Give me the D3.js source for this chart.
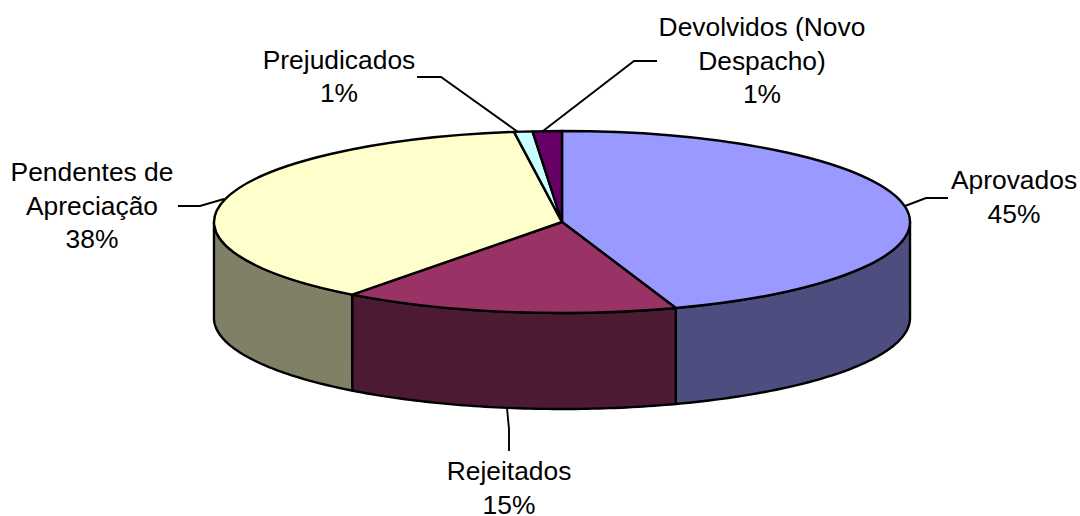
<!DOCTYPE html>
<html><head><meta charset="utf-8">
<script src="https://cdn.jsdelivr.net/npm/d3@7"></script>
<style>html,body{margin:0;padding:0;background:#fff}svg{display:block}text{font-family:"Liberation Sans",Arial,sans-serif;font-size:26.4px;fill:#000;text-anchor:middle}</style>
</head><body><svg id="c" width="1080" height="516"></svg>
<script>
const categories = ["Aprovados","Rejeitados","Pendentes de Apreciação","Prejudicados","Devolvidos (Novo Despacho)"];
const values = [44.7,15.6,37.5,0.85,1.35];
const percentLabels = ["45%","15%","38%","1%","1%"];
const labelLines = [["Aprovados"],["Rejeitados"],["Pendentes de","Apreciação"],["Prejudicados"],["Devolvidos (Novo","Despacho)"]];
const topColors = ["#9999FF","#993366","#FFFFCC","#CCFFFF","#660066"];
const sideColors = ["#4D4D80","#4D1A33","#808066","#668080","#330033"];

const cx=562, cy=222, rx=348, ry=91, depth=96;
const svg=d3.select("#c");
const arcs=d3.pie().sort(null).value(d=>d)(values);
const px=a=>cx+rx*Math.sin(a), py=a=>cy-ry*Math.cos(a);

// side walls: visible front half of the ellipse
const wall=(a0,a1)=>{
  const n=60, top=d3.range(n+1).map(i=>a0+(a1-a0)*i/n);
  const pts=top.map(a=>[px(a),py(a)]).concat(top.slice().reverse().map(a=>[px(a),py(a)+depth]));
  return d3.line()(pts)+"Z";
};
arcs.forEach((d,i)=>{
  const a0=Math.max(d.startAngle,Math.PI/2), a1=Math.min(d.endAngle,Math.PI*1.5);
  if(a1>a0) svg.append("path").attr("d",wall(a0,a1)).attr("fill",sideColors[i])
    .attr("stroke","#000").attr("stroke-width",2.4).attr("stroke-linejoin","round");
});
// top face
const arcGen=d3.arc().innerRadius(0).outerRadius(rx);
const g=svg.append("g").attr("transform",`translate(${cx},${cy}) scale(1,${ry/rx})`);
g.selectAll("path").data(arcs).join("path").attr("d",arcGen)
  .attr("fill",(d,i)=>topColors[i]).attr("stroke","#000").attr("stroke-width",2.4)
  .attr("stroke-linejoin","round").style("vector-effect","non-scaling-stroke");

// leader lines and labels, in page layout terms
const leaders=[
 [[905,206],[926,198],[948,198]],
 [[507,408],[509,429],[509,451]],
 [[178,206],[200,206],[224,199]],
 [[518,132],[441,77],[417,77]],
 [[543,131],[634,61],[657,61]]
];
const labelPos=[[1014,189],[509,480],[92,181],[339,68.5],[762,36]];
const lineH=33.5;
leaders.forEach(l=>svg.append("path").attr("d",d3.line()(l)).attr("fill","none").attr("stroke","#000").attr("stroke-width",1.9));
categories.forEach((c,i)=>{
  const t=svg.append("text").attr("transform",`translate(${labelPos[i][0]},${labelPos[i][1]})`);
  labelLines[i].concat(percentLabels[i]).forEach((s,j)=>t.append("tspan").attr("x",0).attr("y",j*lineH).text(s));
});
</script></body></html>
